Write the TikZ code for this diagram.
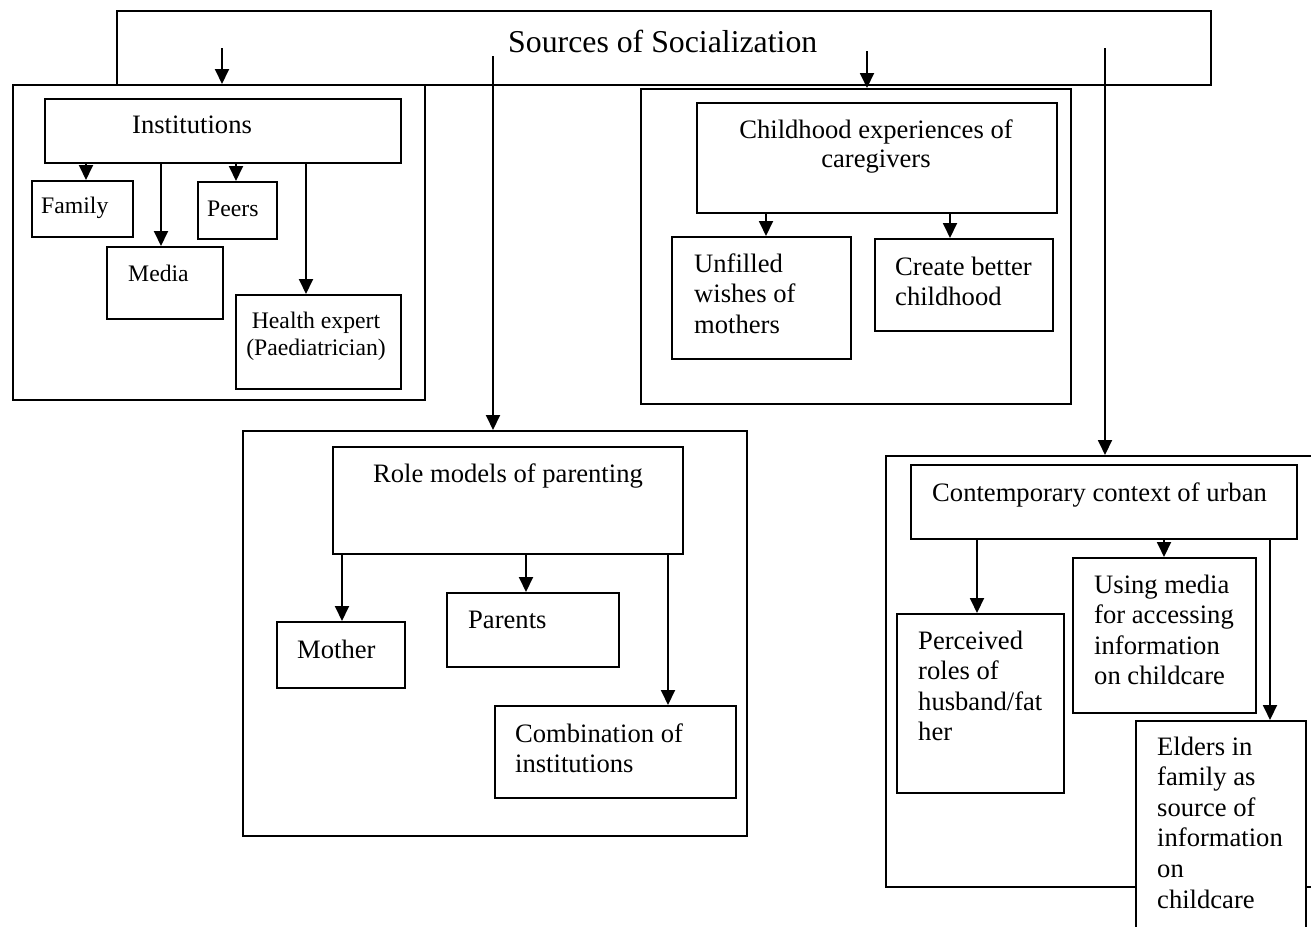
\documentclass[tikz,border=0pt]{standalone}
\usepackage{fontspec}
\setmainfont{Liberation Serif}
\usetikzlibrary{arrows.meta,fit}
\newcommand\tabL[1]{\begin{tabular}[t]{@{}l@{}}#1\end{tabular}}
\newcommand\tabC[1]{\begin{tabular}[t]{@{}c@{}}#1\end{tabular}}
\begin{document}
\begin{tikzpicture}[x=1pt,y=-1pt,
  box/.style={draw, line width=2pt, fill=white, inner sep=0pt},
  arr/.style={line width=1.9pt, -{Triangle[length=15pt,width=14pt]}},
  title/.style={font=\fontsize{31.8}{36}\selectfont, inner sep=0pt, anchor=base west},
  body/.style={font=\fontsize{26.6}{30.6}\selectfont, inner sep=0pt, anchor=base west},
  bodyc/.style={body, anchor=base},
  small/.style={font=\fontsize{23.7}{27}\selectfont, inner sep=0pt, anchor=base west},
  smallc/.style={small, anchor=base},
]
\clip (0,0) rectangle (1311,926);
\fill[white] (0,0) rectangle (1311,926);

% top box
\node[box, fit={(117,11) (1211,85)}] (src) {};
% outer group boxes
\node[box, fit={(13,85) (425,400)}] (instO) {};
\node[box, fit={(641,89) (1071,404)}] (childO) {};
\node[box, fit={(243,431) (747,836)}] (roleO) {};
\node[box, fit={(886,456) (1330,887)}] (contO) {};

% Institutions group
\node[box, fit={(45,99) (401,163)}] (inst) {};
\node[box, fit={(32,181) (133,237)}] (fam) {};
\node[box, fit={(107,247) (223,319)}] (media) {};
\node[box, fit={(198,182) (277,239)}] (peers) {};
\node[box, fit={(236,295) (401,389)}] (health) {};

% Childhood group
\node[box, fit={(697,103) (1057,213)}] (child) {};
\node[box, fit={(672,237) (851,359)}] (unf) {};
\node[box, fit={(875,239) (1053,331)}] (better) {};

% Role models group
\node[box, fit={(333,447) (683,554)}] (role) {};
\node[box, fit={(277,622) (405,688)}] (mother) {};
\node[box, fit={(447,593) (619,667)}] (parents) {};
\node[box, fit={(495,706) (736,798)}] (comb) {};

% Contemporary group
\node[box, fit={(911,465) (1297,539)}] (cont) {};
\node[box, fit={(897,614) (1064,793)}] (perc) {};
\node[box, fit={(1073,558) (1256,713)}] (usem) {};
\node[box, fit={(1136,721) (1306,960)}] (elders) {};

% texts
\node[title] (t-src) at (508,52) {Sources of Socialization};
\node[body] (t-inst) at (132,133) {Institutions};
\node[small] (t-fam) at (41,213) {Family};
\node[small] (t-peers) at (207,216) {Peers};
\node[small] (t-media) at (128,281) {Media};
\node[smallc] (t-health) at (316,328) {\tabC{Health expert\\(Paediatrician)}};

\node[bodyc] (t-child) at (876,138) {\tabC{Childhood experiences of\\[-1.5pt]caregivers}};
\node[body] (t-unf) at (694,272) {\tabL{Unfilled\\wishes of\\mothers}};
\node[body] (t-better) at (895,275) {\tabL{Create better\\childhood}};

\node[body] (t-role) at (373,482) {Role models of parenting};
\node[body] (t-mother) at (297,658) {Mother};
\node[body] (t-parents) at (468,628) {Parents};
\node[body] (t-comb) at (515,742) {\tabL{Combination of\\institutions}};

\node[body] (t-cont) at (932,501) {Contemporary context of urban};
\node[body] (t-perc) at (918,649) {\tabL{Perceived\\roles of\\husband/fat\\her}};
\node[body] (t-usem) at (1094,593) {\tabL{Using media\\for accessing\\information\\on childcare}};
\node[body] (t-elders) at (1157,755) {\tabL{Elders in\\family as\\source of\\information\\on\\childcare}};

% arrows from the top box
\draw[arr] ([xshift=106pt,yshift=-38pt]src.north west) -- ([xshift=210pt]instO.north west);
\draw[arr] ([xshift=377pt,yshift=-46pt]src.north west) -- ([xshift=251pt]roleO.north west);
\draw[arr] ([xshift=751pt,yshift=-41pt]src.north west) -- ([xshift=227pt]childO.north west);
\draw[arr] ([xshift=989pt,yshift=-38pt]src.north west) -- ([xshift=220pt]contO.north west);

% Institutions arrows
\draw[arr] ([xshift=42pt]inst.south west) -- ([xshift=55pt]fam.north west);
\draw[arr] ([xshift=117pt]inst.south west) -- ([xshift=55pt]media.north west);
\draw[arr] ([xshift=192pt]inst.south west) -- ([xshift=39pt]peers.north west);
\draw[arr] ([xshift=262pt]inst.south west) -- ([xshift=71pt]health.north west);

% Childhood arrows
\draw[arr] ([xshift=70pt]child.south west) -- ([xshift=95pt]unf.north west);
\draw[arr] ([xshift=254pt]child.south west) -- ([xshift=76pt]better.north west);

% Role model arrows
\draw[arr] ([xshift=10pt]role.south west) -- ([xshift=66pt]mother.north west);
\draw[arr] ([xshift=194pt]role.south west) -- ([xshift=80pt]parents.north west);
\draw[arr] ([xshift=336pt]role.south west) -- ([xshift=174pt]comb.north west);

% Contemporary arrows
\draw[arr] ([xshift=67pt]cont.south west) -- ([xshift=81pt]perc.north west);
\draw[arr] ([xshift=254pt]cont.south west) -- ([xshift=92pt]usem.north west);
\draw[arr] ([xshift=360pt]cont.south west) -- ([xshift=135pt]elders.north west);
\end{tikzpicture}
\end{document}
